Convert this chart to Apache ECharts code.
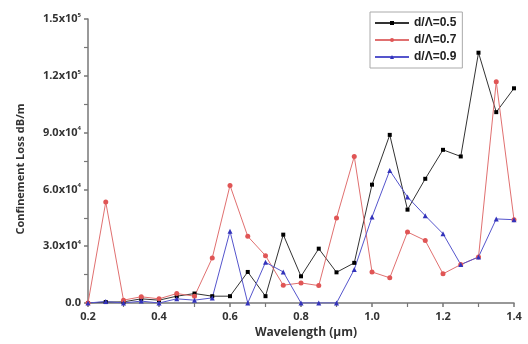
<!DOCTYPE html>
<html>
<head>
<meta charset="utf-8">
<script src="https://cdn.jsdelivr.net/npm/echarts@6/dist/echarts.min.js"></script>
<style>html,body{margin:0;padding:0;background:#fff;}#c{width:528px;height:344px;}</style>
</head>
<body>
<div id="c"></div>
<script>
const wavelengths = [0.2,0.25,0.3,0.35,0.4,0.45,0.5,0.55,0.6,0.65,0.7,0.75,0.8,0.85,0.9,0.95,1.0,1.05,1.1,1.15,1.2,1.25,1.3,1.35,1.4];
const loss05 = [0,500,600,2200,1500,3600,5000,3600,3600,16400,3600,36100,14100,28700,16200,21200,62500,88800,49300,65600,80900,77400,132200,100800,113400];
const loss07 = [0,53300,1500,3300,2200,5000,3600,23800,62100,35200,25000,9400,10600,9200,44900,77400,16400,13300,37500,33000,15400,20300,24300,116900,44000];
const loss09 = [0,800,0,1000,0,2200,1500,2700,37900,0,21500,16400,0,0,0,17700,45400,70000,56000,46100,36600,20300,24300,44400,44000];
const seriesNames = ['d/\u039B=0.5','d/\u039B=0.7','d/\u039B=0.9'];
const yTickLabels = {0:'0.0',30000:'3.0x10{s|4}',60000:'6.0x10{s|4}',90000:'9.0x10{s|4}',120000:'1.2x10{s|5}',150000:'1.5x10{s|5}'};

function pairs(arr){ return wavelengths.map((w,i)=>[w,arr[i]]); }

const chart = echarts.init(document.getElementById('c'));
const axisLineStyle = {color:'#777', width:1.5};
chart.setOption({
  animation:false,
  backgroundColor:'#fff',
  grid:{left:88,right:14,top:19,bottom:40.5},
  legend:{
    left:370, top:12, orient:'vertical', itemGap:5, itemWidth:34, itemHeight:5,
    borderColor:'#aaa', borderWidth:1, padding:[5,6,5,4],
    textStyle:{fontFamily:'Liberation Sans',fontWeight:'bold',fontSize:12,color:'#222'},
    data:seriesNames
  },
  xAxis:{
    type:'value', min:0.2, max:1.4, interval:0.2,
    name:'Wavelength (\u03BCm)', nameLocation:'middle', nameGap:24,
    nameTextStyle:{fontFamily:'Open Sans',fontWeight:'bold',fontSize:12,color:'#333',padding:[0,0,0,10]},
    axisLine:{show:true,lineStyle:axisLineStyle},
    axisTick:{show:true,length:4,lineStyle:axisLineStyle},
    minorTick:{show:true,splitNumber:2,length:4,lineStyle:{color:'#777',width:1.2}},
    splitLine:{show:false},
    axisLabel:{margin:8,fontFamily:'Open Sans',fontWeight:'bold',fontSize:11,color:'#333',formatter:v=>v.toFixed(1)}
  },
  yAxis:{
    type:'value', min:0, max:150000, interval:30000,
    name:'Confinement Loss dB/m', nameLocation:'middle', nameGap:62,
    nameTextStyle:{fontFamily:'Open Sans',fontWeight:'bold',fontSize:11,color:'#333',padding:[0,16,0,0]},
    axisLine:{show:true,lineStyle:axisLineStyle},
    axisTick:{show:true,length:4,lineStyle:axisLineStyle},
    minorTick:{show:true,splitNumber:2,length:4,lineStyle:{color:'#777',width:1.2}},
    splitLine:{show:false},
    axisLabel:{margin:7,fontFamily:'Open Sans',fontWeight:'bold',fontSize:11,color:'#333',
      formatter:v=>yTickLabels[v]!==undefined?yTickLabels[v]:'',
      rich:{s:{fontSize:6,fontWeight:'bold',verticalAlign:'top',padding:[0,0,8,0],color:'#333'}}}
  },
  series:[
    {name:seriesNames[0],type:'line',data:pairs(loss05),symbol:'rect',symbolSize:4,
     lineStyle:{color:'#333',width:1},itemStyle:{color:'#000'},color:'#000'},
    {name:seriesNames[1],type:'line',data:pairs(loss07),symbol:'circle',symbolSize:5,
     lineStyle:{color:'#e07070',width:1},itemStyle:{color:'#e05555'},color:'#e05555'},
    {name:seriesNames[2],type:'line',data:pairs(loss09),symbol:'triangle',symbolSize:5,
     lineStyle:{color:'#5555cc',width:1},itemStyle:{color:'#3333bb'},color:'#3333bb'}
  ]
});
</script>
</body>
</html>
